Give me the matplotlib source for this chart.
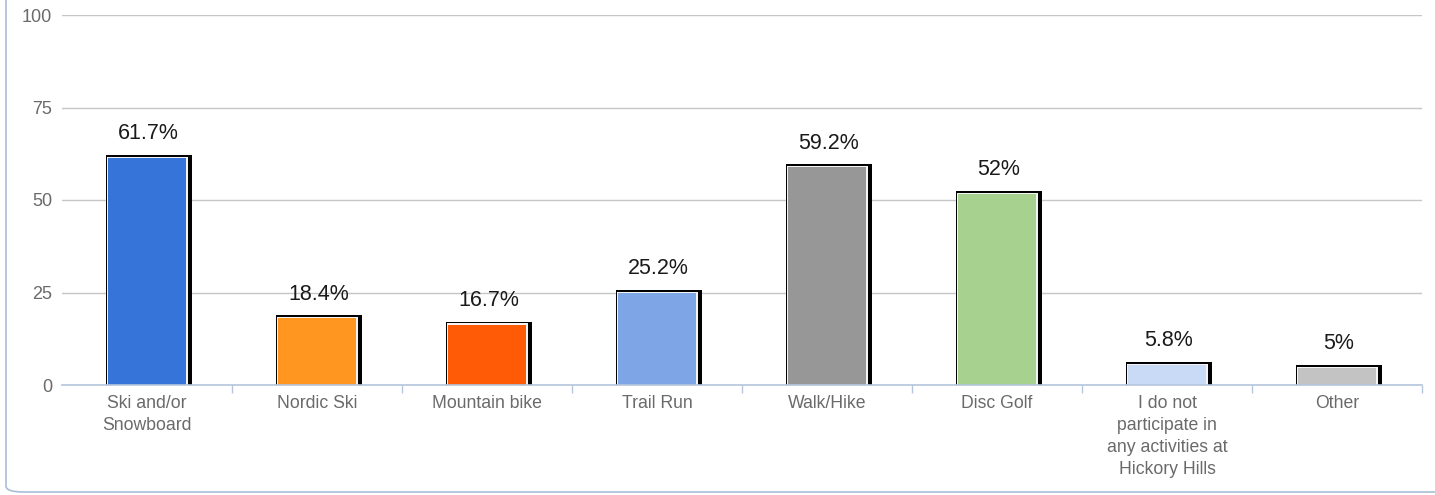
import matplotlib
matplotlib.use("Agg")
import matplotlib.pyplot as plt
from matplotlib.patches import FancyBboxPatch, Rectangle
import numpy as np

categories = ["Ski and/or\nSnowboard", "Nordic Ski", "Mountain bike", "Trail Run",
              "Walk/Hike", "Disc Golf",
              "I do not\nparticipate in\nany activities at\nHickory Hills", "Other"]
values = [61.7, 18.4, 16.7, 25.2, 59.2, 52, 5.8, 5]
value_labels = ["61.7%", "18.4%", "16.7%", "25.2%", "59.2%", "52%", "5.8%", "5%"]
colors = ["#3674D9", "#FF9620", "#FF5A05", "#7EA6E7", "#979797", "#A6D18F", "#C8DAF5", "#C3C3C3"]
yticks = [0, 25, 50, 75, 100]

plt.rcParams['font.family'] = ['Liberation Sans', 'DejaVu Sans']

W, H = 1435, 495
fig = plt.figure(figsize=(W / 100, H / 100), dpi=100)
ax_l, ax_r, ax_t, ax_b = 62, 1422, 15, 385
ax = fig.add_axes([ax_l / W, 1 - ax_b / H, (ax_r - ax_l) / W, (ax_b - ax_t) / H])

n = len(categories)
x = np.arange(n)
ax.set_xlim(-0.5, n - 0.5)
ax.set_ylim(0, 100)

px_x = n / (ax_r - ax_l)
px_y = 100 / (ax_b - ax_t)

bw = 81 * px_x
for xi, v, c, lab in zip(x, values, colors, value_labels):
    # black frame + shadow
    ax.add_patch(Rectangle((xi - bw / 2 - 1 * px_x, 0), bw + 5 * px_x, v + 1.5 * px_y,
                           facecolor="black", edgecolor="none", zorder=3))
    # white inner border
    ax.add_patch(Rectangle((xi - bw / 2, 0), bw, v,
                           facecolor="#f4f4f4", edgecolor="none", zorder=4))
    ax.add_patch(Rectangle((xi - bw / 2 + 1.3 * px_x, 0), bw - 2.6 * px_x, v - 1.3 * px_y,
                           facecolor=c, edgecolor="none", zorder=5))
    ax.annotate(lab, (xi + 1.5 * px_x, v), xytext=(0, 12.5),
                textcoords="offset points", ha="center", va="baseline",
                fontsize=15.5, color="#1a1a1a", zorder=6)

ax.set_yticks(yticks)
ax.set_yticklabels([str(t) for t in yticks], fontsize=13, color="#6a6a6a")
ax.tick_params(axis="y", length=0, pad=7)
for t in ax.get_yticklabels():
    t.set_va("center_baseline")
ax.yaxis.grid(True, color="#c6c6c6", linewidth=1)
ax.set_axisbelow(True)

ax.set_xticks(x)
ax.set_xticklabels(categories, fontsize=12.7, color="#6a6a6a", linespacing=1.38)
ax.tick_params(axis="x", which="major", length=0, pad=7)
ax.set_xticks(np.arange(0.5, n - 0.4, 1), minor=True)
ax.tick_params(axis="x", which="minor", length=6, color="#b4c6dc", width=1)

for s in ["top", "right", "left"]:
    ax.spines[s].set_visible(False)
ax.spines["bottom"].set_color("#b4c6dc")
ax.spines["bottom"].set_linewidth(1.2)
ax.spines["bottom"].set_zorder(7)

# figure border (rounded, only left and bottom visible)
fig.patches.append(FancyBboxPatch((6 / W, 1 - 492 / H), 1.2, 1.2,
                                  boxstyle="round,pad=0,rounding_size=0.012",
                                  transform=fig.transFigure, facecolor="none",
                                  edgecolor="#a9bdd6", linewidth=1.2))

fig.savefig("out.png", dpi=100)
